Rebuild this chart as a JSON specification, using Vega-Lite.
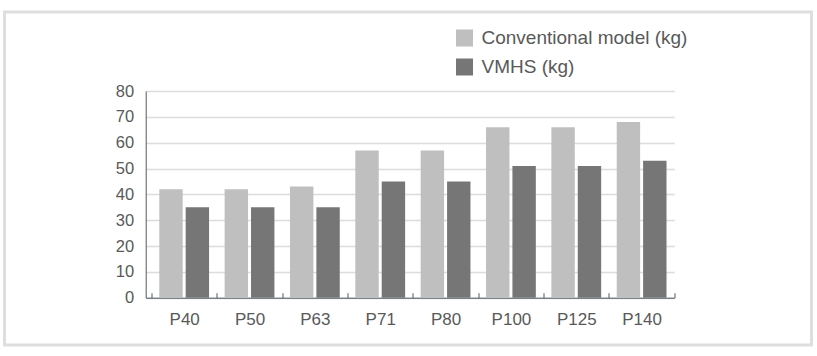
{
  "$schema": "https://vega.github.io/schema/vega-lite/v6.json",
  "autosize": {"type": "none"},
  "width": 807,
  "height": 333,
  "padding": {"left": 4.5, "top": 12, "right": 5.5, "bottom": 11},
  "background": "white",
  "config": {
    "view": {"stroke": "#dedede", "strokeWidth": 3},
    "font": "Liberation Sans"
  },
  "data": {
    "values": [
      {"model": "P40", "series": "Conventional model (kg)", "kg": 42},
      {"model": "P40", "series": "VMHS (kg)", "kg": 35},
      {"model": "P50", "series": "Conventional model (kg)", "kg": 42},
      {"model": "P50", "series": "VMHS (kg)", "kg": 35},
      {"model": "P63", "series": "Conventional model (kg)", "kg": 43},
      {"model": "P63", "series": "VMHS (kg)", "kg": 35},
      {"model": "P71", "series": "Conventional model (kg)", "kg": 57},
      {"model": "P71", "series": "VMHS (kg)", "kg": 45},
      {"model": "P80", "series": "Conventional model (kg)", "kg": 57},
      {"model": "P80", "series": "VMHS (kg)", "kg": 45},
      {"model": "P100", "series": "Conventional model (kg)", "kg": 66},
      {"model": "P100", "series": "VMHS (kg)", "kg": 51},
      {"model": "P125", "series": "Conventional model (kg)", "kg": 66},
      {"model": "P125", "series": "VMHS (kg)", "kg": 51},
      {"model": "P140", "series": "Conventional model (kg)", "kg": 68},
      {"model": "P140", "series": "VMHS (kg)", "kg": 53}
    ]
  },
  "mark": {"type": "bar"},
  "encoding": {
    "x": {
      "field": "model",
      "type": "nominal",
      "sort": null,
      "scale": {"range": [141.2, 669.8], "paddingInner": 0, "paddingOuter": 0.0444, "align": 1},
      "axis": {
        "title": null,
        "labelAngle": 0,
        "labelFontSize": 17,
        "labelColor": "#595959",
        "labelPadding": 19,
        "domainColor": "#4f5b62",
        "domainWidth": 1,
        "tickColor": "#4f5b62",
        "tickSize": -5,
        "tickBand": "extent",
        "grid": false,
        "offset": -47.3
      }
    },
    "xOffset": {
      "field": "series",
      "type": "nominal",
      "scale": {"paddingInner": 0.113, "paddingOuter": 0.295}
    },
    "y": {
      "field": "kg",
      "type": "quantitative",
      "scale": {"domain": [0, 80], "nice": false, "range": [285.7, 79]},
      "axis": {
        "title": null,
        "values": [0, 10, 20, 30, 40, 50, 60, 70, 80],
        "labelFontSize": 16.5,
        "labelColor": "#595959",
        "labelPadding": 12,
        "ticks": false,
        "domainColor": "#4f5b62",
        "domainWidth": 1,
        "gridColor": "#dcdcdc",
        "gridWidth": 1.5,
        "offset": -141.2
      }
    },
    "color": {
      "field": "series",
      "type": "nominal",
      "scale": {"range": ["#bfbfbf", "#767676"]},
      "legend": {
        "title": null,
        "orient": "none",
        "legendX": 450.5,
        "legendY": 16.5,
        "padding": 0,
        "symbolType": "square",
        "symbolSize": 289,
        "symbolStrokeWidth": 0,
        "labelFontSize": 19,
        "labelLimit": 400,
        "labelColor": "#595959",
        "labelOffset": 7.5,
        "rowPadding": 9
      }
    }
  }
}
